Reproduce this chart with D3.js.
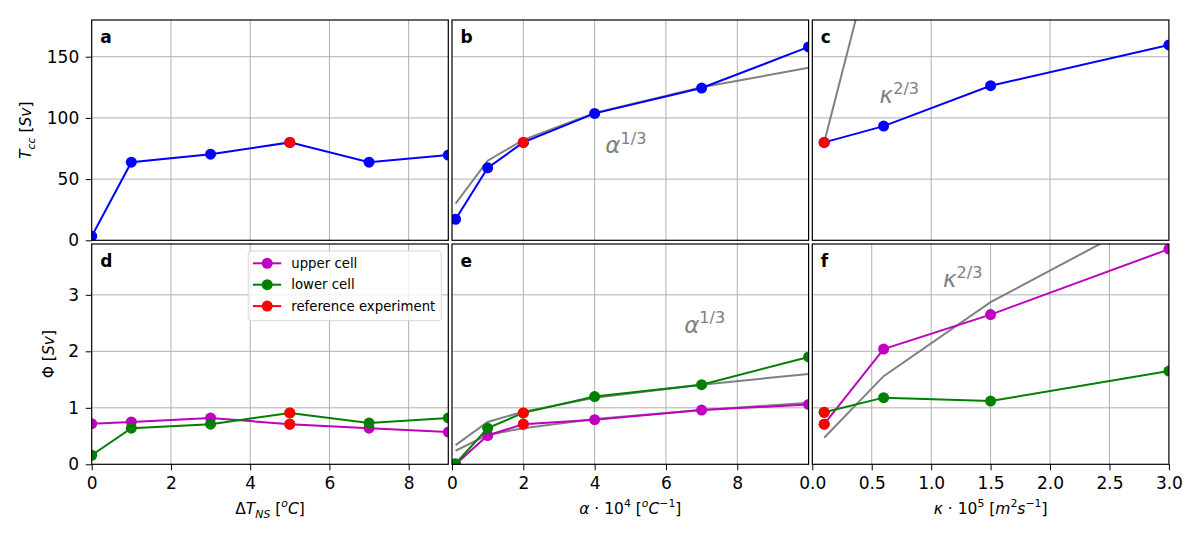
<!DOCTYPE html>
<html>
<head>
<meta charset="utf-8">
<script src="https://cdn.jsdelivr.net/npm/d3@7"></script>
<style>
  body { margin: 0; background: #fff; }
  text { font-family: "DejaVu Sans", sans-serif; }
</style>
</head>
<body>
<svg id="fig" width="1200" height="539"></svg>
<script>
// ---- data ----
const dTNS = [0, 1, 3, 5, 7, 9];
const alpha = [0.1, 1, 2, 4, 7, 10];
const kappa = [0.1, 0.6, 1.5, 3.0];

// transport T_cc [Sv]
const tccDT = [3.3, 63.8, 70.4, 80, 63.8, 69.6];
const tccAlpha = [17.2, 59.2, 80, 103.7, 124.4, 158];
const tccAlphaFit = [30, 65, 82, 104, 125, 141];
const tccKappa = [80, 93.3, 126.3, 159.6];
const tccKappaFit = [80, 269, 490, 775];

// overturning Phi [Sv]
const upperDT = [0.72, 0.75, 0.82, 0.71, 0.64, 0.57];
const lowerDT = [0.16, 0.64, 0.71, 0.91, 0.73, 0.82];
const upperAlpha = [0.0, 0.51, 0.71, 0.79, 0.96, 1.06];
const lowerAlpha = [0.01, 0.64, 0.91, 1.2, 1.41, 1.9];
const upperAlphaFit = [0.24, 0.52, 0.64, 0.80, 0.96, 1.09];
const lowerAlphaFit = [0.34, 0.75, 0.93, 1.18, 1.41, 1.6];
const upperKappa = [0.71, 2.04, 2.65, 3.81];
const lowerKappa = [0.92, 1.18, 1.12, 1.65];
const kappaFit = [0.47, 1.56, 2.87, 4.55];

// index of the reference experiment in each x array
const refDT = 3, refAlpha = 2, refKappa = 0;

const ticksDT = [0, 2, 4, 6, 8];
const ticksAlpha = [0, 2, 4, 6, 8];
const ticksKappaTop = [0, 1, 2, 3];
const ticksKappa = [0, 0.5, 1.0, 1.5, 2.0, 2.5, 3.0];
const ticksTcc = [0, 50, 100, 150];
const ticksPhi = [0, 1, 2, 3];

const legendLabels = ["upper cell", "lower cell", "reference experiment"];

// ---- layout ----
const padLeft = 91.7, padTop = 20, pw = 356.6, ph = 220.3, gap = 3.7;
const C = { blue: "#0000ff", red: "#ff0000", mag: "#bf00bf", green: "#008000", fit: "#808080" };
const labSize = 15.5, noteSize = 23, tickSize = 17, markR = 5.5;

const xlabDT = [{t: "Δ"}, {t: "T", it: 1}, {t: "NS", it: 1, sub: 1}, {t: " ["}, {t: "o", it: 1, sup: 1}, {t: "C", it: 1}, {t: "]"}];
const xlabAlpha = [{t: "α", it: 1}, {t: " · 10"}, {t: "4", sup: 1}, {t: " ["}, {t: "o", it: 1, sup: 1}, {t: "C", it: 1}, {t: "−1", sup: 1}, {t: "]"}];
const xlabKappa = [{t: "κ", it: 1}, {t: " · 10"}, {t: "5", sup: 1}, {t: " ["}, {t: "m", it: 1}, {t: "2", sup: 1}, {t: "s", it: 1}, {t: "−1", sup: 1}, {t: "]"}];

const panels = [
  { id: "a", col: 0, row: 0, xd: [0, 9], yd: [0, 180], xt: ticksDT, yt: ticksTcc,
    ylab: [{t: "T", it: 1}, {t: "cc", it: 1, sub: 1}, {t: " ["}, {t: "Sv", it: 1}, {t: "]"}],
    fits: [], series: [{x: dTNS, y: tccDT, c: C.blue}], ref: refDT },
  { id: "b", col: 1, row: 0, xd: [0, 10], yd: [0, 180], xt: ticksAlpha, yt: ticksTcc,
    fits: [{x: alpha, y: tccAlphaFit}], series: [{x: alpha, y: tccAlpha, c: C.blue}], ref: refAlpha,
    note: {sym: "α", sup: "1/3", x: 4.3, y: 71} },
  { id: "c", col: 2, row: 0, xd: [0, 3], yd: [0, 180], xt: ticksKappaTop, yt: ticksTcc,
    fits: [{x: kappa, y: tccKappaFit}], series: [{x: kappa, y: tccKappa, c: C.blue}], ref: refKappa,
    note: {sym: "κ", sup: "2/3", x: 0.566, y: 112} },
  { id: "d", col: 0, row: 1, xd: [0, 9], yd: [0, 3.9], xt: ticksDT, yt: ticksPhi, xf: d3.format("d"),
    ylab: [{t: "Φ ["}, {t: "Sv", it: 1}, {t: "]"}], xlab: xlabDT, legend: true,
    fits: [], series: [{x: dTNS, y: upperDT, c: C.mag}, {x: dTNS, y: lowerDT, c: C.green}], ref: refDT },
  { id: "e", col: 1, row: 1, xd: [0, 10], yd: [0, 3.9], xt: ticksAlpha, yt: ticksPhi, xf: d3.format("d"),
    xlab: xlabAlpha,
    fits: [{x: alpha, y: upperAlphaFit}, {x: alpha, y: lowerAlphaFit}],
    series: [{x: alpha, y: upperAlpha, c: C.mag}, {x: alpha, y: lowerAlpha, c: C.green}], ref: refAlpha,
    note: {sym: "α", sup: "1/3", x: 6.51, y: 2.33} },
  { id: "f", col: 2, row: 1, xd: [0, 3], yd: [0, 3.9], xt: ticksKappa, yt: ticksPhi, xf: d3.format(".1f"),
    xlab: xlabKappa,
    fits: [{x: kappa, y: kappaFit}],
    series: [{x: kappa, y: upperKappa, c: C.mag}, {x: kappa, y: lowerKappa, c: C.green}], ref: refKappa,
    note: {sym: "κ", sup: "2/3", x: 1.10, y: 3.13} }
];

const svg = d3.select("#fig");
const defs = svg.append("defs");

// writes mathtext-like parts as tspans
function mathText(sel, parts, size) {
  const shift = p => p.sub ? 0.24 * size : p.sup ? -0.42 * size : 0;
  parts.forEach((p, i) => {
    const ts = sel.append("tspan").text(p.t);
    if (p.it) ts.attr("font-style", "italic");
    if (p.sub || p.sup) ts.attr("font-size", size * 0.7);
    const dy = shift(p) - (i > 0 ? shift(parts[i - 1]) : 0);
    if (dy) ts.attr("dy", dy);
  });
}

panels.forEach(p => {
  const x0 = padLeft + p.col * (pw + gap), y0 = padTop + p.row * (ph + gap);
  const x = d3.scaleLinear().domain(p.xd).range([x0, x0 + pw]);
  const y = d3.scaleLinear().domain(p.yd).range([y0 + ph, y0]);
  const g = svg.append("g");

  defs.append("clipPath").attr("id", "clip-" + p.id)
    .append("rect").attr("x", x0).attr("y", y0).attr("width", pw).attr("height", ph);

  // grid
  g.append("g").selectAll("line").data(p.xt.filter(v => v > p.xd[0] && v < p.xd[1])).enter().append("line")
    .attr("x1", d => x(d)).attr("x2", d => x(d)).attr("y1", y0).attr("y2", y0 + ph)
    .attr("stroke", "#b0b0b0").attr("stroke-width", 1);
  g.append("g").selectAll("line").data(p.yt.filter(v => v > p.yd[0] && v < p.yd[1])).enter().append("line")
    .attr("y1", d => y(d)).attr("y2", d => y(d)).attr("x1", x0).attr("x2", x0 + pw)
    .attr("stroke", "#b0b0b0").attr("stroke-width", 1);

  const plot = g.append("g").attr("clip-path", "url(#clip-" + p.id + ")");
  const line = (xs, ys) => d3.line().x((d, i) => x(xs[i])).y(d => y(d))(ys);

  p.fits.forEach(f => {
    plot.append("path").attr("d", line(f.x, f.y))
      .attr("fill", "none").attr("stroke", C.fit).attr("stroke-width", 2);
  });
  p.series.forEach(s => {
    plot.append("path").attr("d", line(s.x, s.y))
      .attr("fill", "none").attr("stroke", s.c).attr("stroke-width", 2);
    plot.append("g").selectAll("circle").data(s.y).enter().append("circle")
      .attr("cx", (d, i) => x(s.x[i])).attr("cy", d => y(d)).attr("r", markR).attr("fill", s.c);
  });
  p.series.forEach(s => {
    plot.append("circle").attr("cx", x(s.x[p.ref])).attr("cy", y(s.y[p.ref]))
      .attr("r", markR).attr("fill", C.red);
  });

  if (p.note) {
    const t = g.append("text").attr("x", x(p.note.x)).attr("y", y(p.note.y))
      .attr("fill", C.fit).attr("font-size", noteSize);
    mathText(t, [{t: p.note.sym, it: 1}, {t: p.note.sup, sup: 1}], noteSize);
  }

  // frame
  g.append("rect").attr("x", x0).attr("y", y0).attr("width", pw).attr("height", ph)
    .attr("fill", "none").attr("stroke", "#000").attr("stroke-width", 1.2);

  g.append("text").attr("x", x0 + 8.5).attr("y", y0 + 23)
    .attr("font-size", 17).attr("font-weight", "bold").text(p.id);

  // axes
  if (p.col === 0) {
    const ay = g.append("g").attr("transform", `translate(${x0},0)`)
      .call(d3.axisLeft(y).tickValues(p.yt).tickFormat(d3.format("d")).tickSize(6).tickPadding(6.5));
    ay.select(".domain").remove();
    ay.selectAll("text").attr("font-size", tickSize).attr("font-family", "DejaVu Sans").attr("fill", "#000");
    const lx = p.row === 0 ? 31 : 54;
    const t = g.append("text").attr("transform", `translate(${lx},${y0 + ph / 2}) rotate(-90)`)
      .attr("text-anchor", "middle").attr("font-size", labSize);
    mathText(t, p.ylab, labSize);
  }
  if (p.row === 1) {
    const ax = g.append("g").attr("transform", `translate(0,${y0 + ph})`)
      .call(d3.axisBottom(x).tickValues(p.xt).tickFormat(p.xf).tickSize(6).tickPadding(6.5));
    ax.select(".domain").remove();
    ax.selectAll("text").attr("font-size", tickSize).attr("font-family", "DejaVu Sans").attr("fill", "#000");
    const t = g.append("text").attr("x", x0 + pw / 2).attr("y", 514)
      .attr("text-anchor", "middle").attr("font-size", labSize);
    mathText(t, p.xlab, labSize);
  }

  if (p.legend) {
    const colors = [C.mag, C.green, C.red];
    const lg = g.append("g");
    const box = lg.append("rect").attr("fill", "#fff").attr("fill-opacity", 0.8)
      .attr("stroke", "#d6d6d6").attr("rx", 3);
    const rowH = 21.4;
    legendLabels.forEach((lab, i) => {
      const cy = 12.3 + i * rowH;
      lg.append("line").attr("x1", 4.7).attr("x2", 33).attr("y1", cy).attr("y2", cy)
        .attr("stroke", colors[i]).attr("stroke-width", 2);
      lg.append("circle").attr("cx", 19).attr("cy", cy).attr("r", markR).attr("fill", colors[i]);
      lg.append("text").attr("x", 43).attr("y", cy).attr("dy", "0.35em")
        .attr("font-size", 13.3).text(lab);
    });
    const tw = d3.max(lg.selectAll("text").nodes(), n => n.getComputedTextLength());
    const bw = 43 + tw + 6, bh = 69.7;
    box.attr("width", bw).attr("height", bh);
    lg.attr("transform", `translate(${x0 + pw - 7 - bw},${y0 + 7})`);
  }
});
</script>
</body>
</html>
